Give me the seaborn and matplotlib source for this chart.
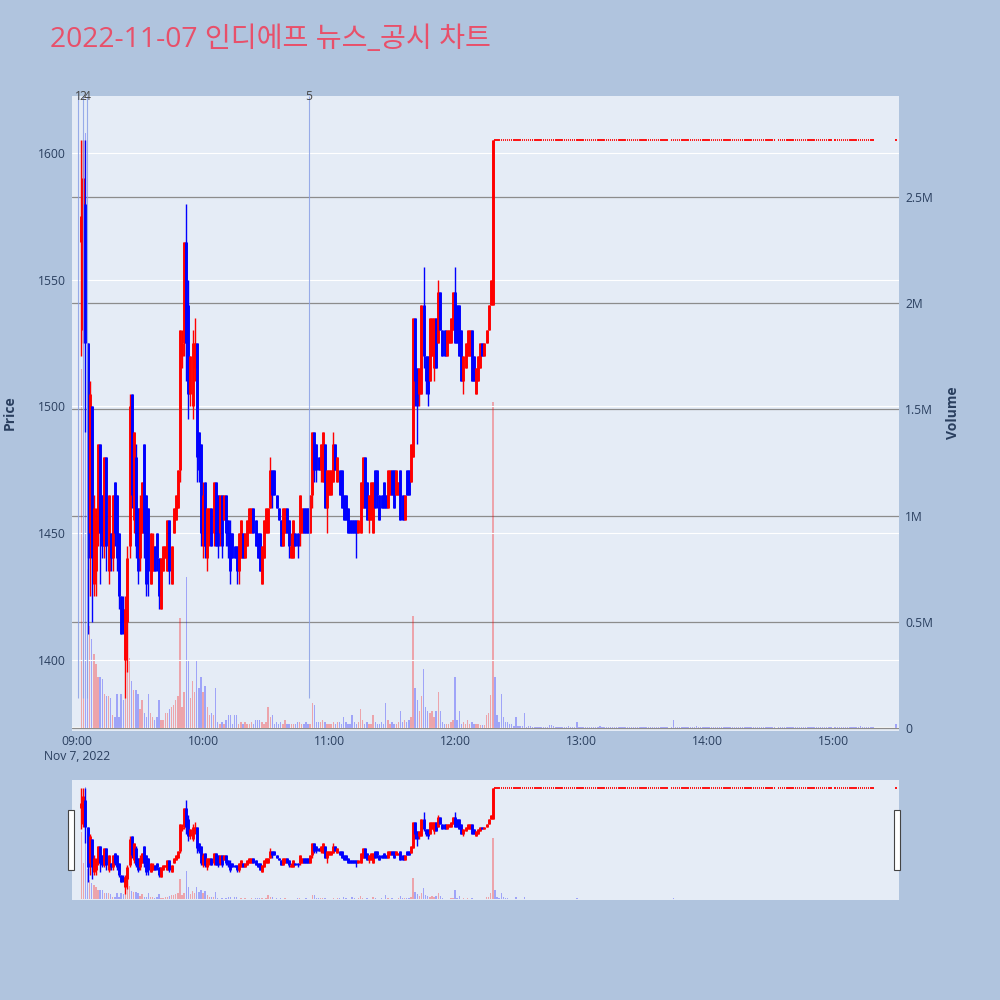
import numpy as np
import pandas as pd
import matplotlib
matplotlib.use("Agg")
import matplotlib.pyplot as plt
from matplotlib.patches import Rectangle
import seaborn as sns

title = "2022-11-07 인디에프 뉴스_공시 차트"

# one candle per minute, minutes counted from 09:00; first candle is 09:02
first_minute = 2
opens = [
    1565, 1530, 1580, 1525, 1450, 1500, 1430, 1435, 1450, 1485,
    1465, 1445, 1480, 1435, 1450, 1440, 1470, 1465, 1450, 1425,
    1420, 1400, 1415, 1445, 1505, 1455, 1480, 1460, 1440, 1450,
    1485, 1465, 1460, 1430, 1435, 1445, 1450, 1440, 1420, 1435,
    1440, 1435, 1455, 1430, 1450, 1455, 1460, 1475, 1520, 1525,
    1565, 1540, 1505, 1500, 1515, 1525, 1490, 1485, 1445, 1470,
    1440, 1450, 1460, 1450, 1470, 1465, 1450, 1465, 1455, 1465,
    1455, 1450, 1450, 1445, 1445, 1435, 1440, 1450, 1440, 1445,
    1450, 1450, 1460, 1455, 1450, 1450, 1430, 1440, 1450, 1450,
    1460, 1475, 1475, 1465, 1460, 1455, 1445, 1450, 1460, 1455,
    1440, 1440, 1450, 1450, 1450, 1450, 1460, 1460, 1460, 1450,
    1465, 1490, 1485, 1480, 1475, 1470, 1485, 1460, 1465, 1465,
    1470, 1485, 1470, 1475, 1475, 1465, 1465, 1460, 1455, 1455,
    1455, 1455, 1450, 1450, 1460, 1480, 1470, 1455, 1455, 1450,
    1475, 1475, 1465, 1465, 1470, 1465, 1460, 1465, 1475, 1475,
    1465, 1465, 1475, 1465, 1455, 1475, 1475, 1470, 1480, 1535,
    1515, 1505, 1505, 1540, 1520, 1520, 1510, 1520, 1515, 1535,
    1525, 1545, 1530, 1530, 1520, 1525, 1525, 1530, 1545, 1540,
    1540, 1530, 1510, 1515, 1520, 1520, 1530, 1520, 1505, 1510,
    1515, 1525, 1520, 1525, 1530, 1540, 1540,
]
highs = [
    1605, 1605, 1605, 1525, 1510, 1500, 1465, 1460, 1485, 1485,
    1465, 1480, 1480, 1465, 1450, 1465, 1470, 1465, 1450, 1425,
    1425, 1425, 1445, 1505, 1505, 1490, 1485, 1460, 1465, 1470,
    1485, 1465, 1460, 1450, 1450, 1445, 1450, 1440, 1440, 1445,
    1445, 1455, 1455, 1445, 1460, 1465, 1475, 1530, 1530, 1565,
    1580, 1550, 1520, 1530, 1535, 1525, 1490, 1485, 1470, 1470,
    1460, 1460, 1460, 1470, 1470, 1465, 1465, 1465, 1465, 1465,
    1455, 1455, 1450, 1445, 1445, 1450, 1455, 1450, 1450, 1455,
    1460, 1460, 1460, 1455, 1450, 1450, 1445, 1455, 1460, 1460,
    1480, 1475, 1475, 1465, 1460, 1455, 1460, 1460, 1460, 1455,
    1450, 1455, 1450, 1450, 1465, 1460, 1460, 1460, 1460, 1465,
    1490, 1490, 1485, 1480, 1485, 1490, 1485, 1475, 1475, 1475,
    1490, 1485, 1480, 1475, 1475, 1465, 1465, 1460, 1455, 1455,
    1455, 1455, 1455, 1470, 1480, 1480, 1470, 1465, 1470, 1470,
    1475, 1475, 1465, 1465, 1470, 1465, 1475, 1475, 1475, 1475,
    1475, 1470, 1475, 1465, 1465, 1475, 1475, 1485, 1535, 1535,
    1515, 1515, 1540, 1555, 1520, 1520, 1535, 1535, 1535, 1535,
    1550, 1545, 1530, 1530, 1530, 1530, 1535, 1545, 1555, 1540,
    1540, 1530, 1520, 1525, 1530, 1530, 1530, 1520, 1515, 1520,
    1525, 1525, 1525, 1530, 1540, 1550, 1605,
]
lows = [
    1520, 1525, 1490, 1410, 1425, 1415, 1425, 1425, 1445, 1430,
    1440, 1440, 1435, 1430, 1435, 1435, 1445, 1435, 1420, 1410,
    1410, 1385, 1395, 1440, 1460, 1450, 1440, 1430, 1435, 1450,
    1440, 1425, 1425, 1430, 1435, 1435, 1435, 1420, 1420, 1435,
    1440, 1435, 1430, 1430, 1450, 1455, 1460, 1470, 1515, 1520,
    1510, 1495, 1500, 1495, 1510, 1470, 1470, 1445, 1440, 1440,
    1435, 1445, 1445, 1445, 1445, 1440, 1445, 1440, 1455, 1445,
    1440, 1430, 1440, 1440, 1430, 1430, 1440, 1440, 1440, 1445,
    1450, 1450, 1450, 1445, 1440, 1435, 1430, 1440, 1450, 1450,
    1460, 1460, 1465, 1460, 1455, 1445, 1445, 1450, 1450, 1440,
    1440, 1440, 1445, 1440, 1445, 1450, 1450, 1450, 1450, 1450,
    1460, 1470, 1470, 1475, 1470, 1470, 1460, 1450, 1465, 1465,
    1470, 1475, 1470, 1465, 1460, 1455, 1455, 1450, 1450, 1450,
    1450, 1440, 1450, 1450, 1460, 1460, 1455, 1450, 1455, 1450,
    1460, 1460, 1455, 1460, 1460, 1460, 1460, 1465, 1465, 1460,
    1465, 1465, 1455, 1455, 1455, 1465, 1465, 1470, 1480, 1500,
    1485, 1500, 1505, 1515, 1505, 1500, 1510, 1520, 1510, 1515,
    1525, 1530, 1520, 1520, 1520, 1525, 1525, 1530, 1525, 1525,
    1520, 1510, 1505, 1515, 1520, 1520, 1510, 1510, 1505, 1510,
    1515, 1520, 1520, 1525, 1530, 1540, 1540,
]
closes = [
    1575, 1590, 1525, 1440, 1505, 1440, 1460, 1455, 1485, 1450,
    1445, 1480, 1445, 1465, 1440, 1465, 1450, 1440, 1425, 1410,
    1415, 1420, 1440, 1500, 1465, 1490, 1445, 1435, 1460, 1470,
    1450, 1430, 1435, 1450, 1445, 1435, 1440, 1425, 1440, 1445,
    1445, 1455, 1435, 1445, 1460, 1465, 1475, 1530, 1525, 1565,
    1525, 1505, 1520, 1525, 1525, 1480, 1475, 1450, 1465, 1445,
    1460, 1460, 1445, 1470, 1445, 1445, 1465, 1445, 1465, 1450,
    1445, 1435, 1440, 1440, 1435, 1450, 1455, 1440, 1450, 1455,
    1460, 1460, 1450, 1445, 1440, 1435, 1445, 1455, 1460, 1460,
    1475, 1465, 1465, 1460, 1455, 1445, 1460, 1460, 1450, 1445,
    1445, 1455, 1445, 1445, 1465, 1460, 1450, 1450, 1450, 1465,
    1490, 1475, 1475, 1475, 1485, 1490, 1460, 1475, 1475, 1475,
    1485, 1475, 1480, 1465, 1460, 1455, 1455, 1450, 1450, 1450,
    1450, 1450, 1455, 1470, 1480, 1460, 1455, 1465, 1470, 1470,
    1460, 1465, 1455, 1460, 1460, 1460, 1475, 1475, 1465, 1460,
    1475, 1470, 1455, 1455, 1465, 1465, 1465, 1485, 1535, 1510,
    1500, 1515, 1540, 1520, 1510, 1505, 1535, 1535, 1535, 1515,
    1545, 1530, 1520, 1520, 1530, 1530, 1535, 1545, 1525, 1525,
    1520, 1510, 1520, 1525, 1530, 1530, 1510, 1510, 1515, 1520,
    1525, 1520, 1525, 1530, 1540, 1550, 1605,
]
# volume in millions of shares
volumes = [
    1.69, 0.9, 2.8, 0.75, 0.48, 0.42, 0.35, 0.3, 0.24, 0.24,
    0.23, 0.16, 0.15, 0.15, 0.14, 0.06, 0.05, 0.16, 0.05, 0.16,
    0.13, 0.15, 0.5, 0.33, 0.22, 0.18, 0.18, 0.16, 0.09, 0.13,
    0.07, 0.05, 0.16, 0.07, 0.05, 0.04, 0.05, 0.13, 0.04, 0.04,
    0.07, 0.07, 0.09, 0.1, 0.11, 0.13, 0.15, 0.52, 0.1, 0.17,
    0.71, 0.32, 0.14, 0.22, 0.17, 0.32, 0.19, 0.24, 0.17, 0.2,
    0.1, 0.06, 0.07, 0.06, 0.19, 0.03, 0.02, 0.03, 0.02, 0.04,
    0.06, 0.06, 0.02, 0.06, 0.06, 0.02, 0.03, 0.02, 0.03, 0.02,
    0.02, 0.03, 0.02, 0.04, 0.04, 0.04, 0.03, 0.02, 0.03, 0.1,
    0.05, 0.06, 0.02, 0.03, 0.02, 0.03, 0.02, 0.04, 0.02, 0.02,
    0.02, 0.02, 0.02, 0.03, 0.03, 0.02, 0.02, 0.03, 0.02, 0.02,
    0.12, 0.11, 0.03, 0.03, 0.03, 0.04, 0.03, 0.02, 0.02, 0.02,
    0.03, 0.02, 0.03, 0.03, 0.02, 0.05, 0.03, 0.02, 0.02, 0.06,
    0.03, 0.02, 0.03, 0.09, 0.04, 0.02, 0.03, 0.02, 0.02, 0.06,
    0.03, 0.02, 0.02, 0.03, 0.02, 0.12, 0.04, 0.02, 0.03, 0.02,
    0.02, 0.03, 0.08, 0.03, 0.04, 0.03, 0.04, 0.05, 0.525, 0.19,
    0.13, 0.08, 0.15, 0.28, 0.1, 0.08, 0.07, 0.08, 0.05, 0.08,
    0.17, 0.08, 0.03, 0.02, 0.02, 0.02, 0.03, 0.04, 0.24, 0.04,
    0.08, 0.02, 0.03, 0.02, 0.04, 0.02, 0.03, 0.02, 0.02, 0.02,
    0.015, 0.015, 0.015, 0.06, 0.07, 0.155, 1.535,
]

# after 12:18 the price sits at the upper limit
limit_price = 1605
flat_minutes = [m for m in range(199, 380) if m not in (282, 333, 360)] + [390]
flat_volumes = [
    0.24, 0.06, 0.03, 0.16, 0.05, 0.03, 0.03, 0.02, 0.02, 0.01,
    0.05, 0.01, 0.01, 0.01, 0.07, 0.005, 0.01, 0.01, 0.005, 0.004,
    0.003, 0.004, 0.003, 0.005, 0.004, 0.006, 0.015, 0.015, 0.01, 0.004,
    0.003, 0.004, 0.003, 0.005, 0.003, 0.01, 0.004, 0.003, 0.005, 0.03,
    0.004, 0.003, 0.005, 0.003, 0.004, 0.003, 0.004, 0.003, 0.005, 0.003,
    0.01, 0.003, 0.004, 0.003, 0.003, 0.004, 0.003, 0.005, 0.003, 0.004,
    0.003, 0.004, 0.003, 0.003, 0.005, 0.003, 0.004, 0.003, 0.003, 0.004,
    0.003, 0.005, 0.003, 0.004, 0.003, 0.003, 0.004, 0.003, 0.005, 0.003,
    0.004, 0.003, 0.003,
    0.005, 0.04, 0.004, 0.003, 0.004, 0.003, 0.005, 0.003, 0.004, 0.003,
    0.003, 0.004, 0.01, 0.003, 0.004, 0.003, 0.003, 0.004, 0.003, 0.006,
    0.003, 0.004, 0.003, 0.003, 0.005, 0.003, 0.004, 0.003, 0.003, 0.004,
    0.003, 0.005, 0.003, 0.004, 0.003, 0.003, 0.004, 0.003, 0.005, 0.003,
    0.004, 0.003, 0.003, 0.004, 0.003, 0.005, 0.003, 0.004, 0.003, 0.003,
    0.004, 0.003, 0.005, 0.003, 0.004, 0.003, 0.003, 0.004, 0.003, 0.005,
    0.003, 0.004, 0.003, 0.003, 0.004, 0.003, 0.005, 0.003, 0.004, 0.003,
    0.003, 0.004, 0.003, 0.005, 0.003, 0.004,
    0.003, 0.003, 0.004, 0.003, 0.005, 0.003, 0.004, 0.003, 0.003, 0.004,
    0.003, 0.005, 0.01, 0.003, 0.004, 0.003, 0.003, 0.004, 0.003,
    0.02,
]

news_minutes = [0.5, 2.9, 4.8, 110.5]
news_labels = ["1", "2", "4", "5"]
news_floor = 1385

hour_ticks = [0, 60, 120, 180, 240, 300, 360]
hour_labels = ["09:00\nNov 7, 2022", "10:00", "11:00", "12:00", "13:00", "14:00", "15:00"]
price_ticks = [1400, 1450, 1500, 1550, 1600]
vol_ticks = [0, 0.5, 1, 1.5, 2, 2.5]
vol_labels = ["0", "0.5M", "1M", "1.5M", "2M", "2.5M"]

UP, DOWN = "#ff0000", "#0000ff"
TXT = "#2a3f5f"
XLIM = (-2.4, 391.4)
PLIM = (1371.8, 1622.5)
VLIM = (-0.014, 2.975)

session_minutes = list(range(first_minute, first_minute + len(opens)))
is_up = [c > o for o, c in zip(opens, closes)]

vol_df = pd.DataFrame({
    "minute": session_minutes + flat_minutes,
    "volume": volumes + flat_volumes,
    "dir": ["up" if u else "down" for u in is_up] + ["down"] * len(flat_minutes),
})

sns.set_theme(style="darkgrid", rc={
    "figure.facecolor": "#b0c4de",
    "axes.facecolor": "#e5ecf6",
    "grid.color": "white",
    "axes.linewidth": 0,
})
plt.rcParams["font.family"] = ["Open Sans", "Noto Sans CJK KR", "DejaVu Sans"]

fig = plt.figure(figsize=(10, 10), dpi=100)


def draw_panel(ax, ax_v, body_lw, wick_lw):
    ax_v.set_zorder(1)
    ax.set_zorder(2)
    ax.patch.set_visible(False)
    ax_v.patch.set_visible(True)
    ax_v.patch.set_facecolor("#e5ecf6")

    sns.barplot(data=vol_df, x="minute", y="volume", hue="dir",
                palette={"up": UP, "down": DOWN}, native_scale=True,
                dodge=False, width=0.65, alpha=0.3, saturation=1,
                linewidth=0, errorbar=None, legend=False, ax=ax_v)

    xs, y0, y1, cols, lws = [], [], [], [], []
    for m, o, h, l, c, u in zip(session_minutes, opens, highs, lows, closes, is_up):
        col = UP if u else DOWN
        xs += [m, m]
        y0 += [l, min(o, c)]
        y1 += [h, max(o, c)]
        cols += [col, col]
        lws += [wick_lw, body_lw]
    ax.vlines(xs, y0, y1, colors=cols, linewidths=lws)
    fm = np.array(flat_minutes)
    ax.hlines([limit_price] * len(fm), fm - 0.35, fm + 0.35, colors=UP, linewidths=1.3)

    ax.set_xlim(XLIM)
    ax.set_ylim(PLIM)
    ax_v.set_ylim(VLIM)
    ax_v.set_xlim(XLIM)
    ax.set_xlabel("")
    ax.set_ylabel("")
    ax_v.set_xlabel("")
    ax_v.set_ylabel("")


# main chart
ax = fig.add_axes([0.072, 0.269, 0.827, 0.635])
ax_v = ax.twinx()
draw_panel(ax, ax_v, body_lw=2.1, wick_lw=1.0)

ax.vlines(news_minutes, news_floor, PLIM[1], colors="#8aa0e6", linewidths=0.8, alpha=0.85)
for m, lbl in zip(news_minutes, news_labels):
    ax.text(m, PLIM[1], lbl, ha="center", va="center", fontsize=8.7,
            color="#444444", clip_on=False)

ax.set_yticks(price_ticks)
ax.set_xticks(hour_ticks)
ax.set_xticklabels(hour_labels)
ax_v.set_yticks(vol_ticks)
ax_v.set_yticklabels(vol_labels)
ax.grid(True, axis="y", color="white", linewidth=0.8)
ax.grid(False, axis="x")
ax_v.grid(True, axis="y", color="#8c8c8c", linewidth=0.9)
ax_v.grid(False, axis="x")
ax_v.axhline(0, color="white", linewidth=1.6, zorder=0.5)
ax.tick_params(axis="x", length=0, pad=3, labelsize=8.7, labelcolor=TXT)
ax.tick_params(axis="y", length=0, pad=4.5, labelsize=8.7, labelcolor=TXT)
ax_v.tick_params(axis="y", length=0, pad=4.5, labelsize=8.7, labelcolor=TXT)
for a in (ax, ax_v):
    for s in a.spines.values():
        s.set_visible(False)

# range slider
ax_s = fig.add_axes([0.072, 0.10, 0.827, 0.12])
ax_sv = ax_s.twinx()
draw_panel(ax_s, ax_sv, body_lw=2.1, wick_lw=1.0)
for a in (ax_s, ax_sv):
    a.set_xticks([])
    a.set_yticks([])
    a.grid(False)
    for s in a.spines.values():
        s.set_visible(False)
for hx in (0.068, 0.894):
    fig.patches.append(Rectangle((hx, 0.13), 0.006, 0.06, transform=fig.transFigure,
                                 facecolor="white", edgecolor="#444444", linewidth=0.8))

fig.text(0.05, 0.96, title, ha="left", va="center", fontsize=20.3, color="#e8506a")
fig.text(0.01, 0.587, "Price", rotation=90, ha="center", va="center",
         fontsize=10, fontweight="bold", color=TXT)
fig.text(0.953, 0.587, "Volume", rotation=90, ha="center", va="center",
         fontsize=10, fontweight="bold", color=TXT)

fig.savefig("out.png", dpi=100, facecolor=fig.get_facecolor())
